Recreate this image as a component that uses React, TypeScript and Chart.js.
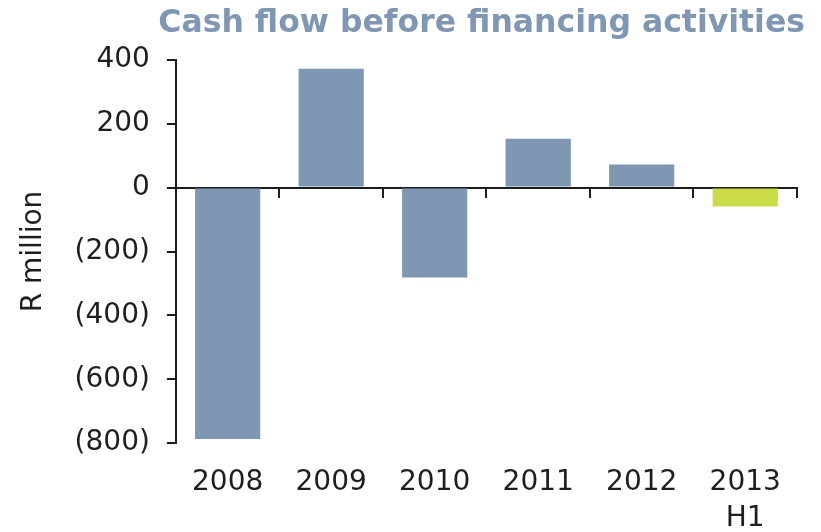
import React, { useEffect, useRef } from 'react';
import { Chart, registerables } from 'chart.js';

Chart.register(...registerables);

const categories: (string | string[])[] = ['2008', '2009', '2010', '2011', '2012', ['2013', 'H1']];
const cashFlow = [-787, 372, -281, 153, 72, -59];
const barColors = ['#7f97b2', '#7f97b2', '#7f97b2', '#7f97b2', '#7f97b2', '#cbdb48'];
const yMin = -800;
const yMax = 400;
const yStep = 200;
const chartTitle = 'Cash flow before financing activities';
const yTitle = 'R million';

const FONT = "'DejaVu Sans', Verdana, sans-serif";
const INK = '#1e1e1e';

export default function App() {
  const ref = useRef<HTMLCanvasElement | null>(null);

  useEffect(() => {
    if (!ref.current) return;
    const chart = new Chart(ref.current, {
      type: 'bar',
      data: {
        labels: categories,
        datasets: [
          {
            data: cashFlow,
            backgroundColor: barColors,
            borderWidth: 0,
            barPercentage: 0.63,
            categoryPercentage: 1,
            xAxisID: 'x',
            yAxisID: 'y',
          },
        ],
      },
      options: {
        animation: false,
        responsive: true,
        maintainAspectRatio: false,
        layout: { padding: { left: 0, right: 16, top: 0, bottom: -26 } },
        plugins: {
          legend: { display: false },
          tooltip: { enabled: false },
          title: {
            display: true,
            text: chartTitle,
            fullSize: true,
            align: 'end',
            color: '#7f97b2',
            font: { family: FONT, size: 31.5, weight: 'bold' },
            padding: { top: 5, bottom: 17 },
          },
        },
        scales: {
          x: {
            type: 'category',
            position: 'bottom',
            offset: true,
            grid: { display: false, drawTicks: false },
            border: { display: false },
            ticks: {
              color: INK,
              font: { family: FONT, size: 28, lineHeight: 1.3 },
              padding: 21,
              maxRotation: 0,
              autoSkip: false,
            },
          },
          x2: {
            type: 'category',
            position: { y: 0 },
            offset: true,
            grid: {
              display: true,
              offset: true,
              drawOnChartArea: false,
              drawTicks: true,
              tickLength: 9,
              color: INK,
              lineWidth: 2,
            },
            border: { display: true, color: INK, width: 2 },
            ticks: { display: false },
          },
          y: {
            min: yMin,
            max: yMax,
            grid: {
              display: true,
              drawOnChartArea: false,
              drawTicks: true,
              tickLength: 9,
              color: INK,
              lineWidth: 2,
            },
            border: { display: true, color: INK, width: 2 },
            ticks: {
              stepSize: yStep,
              color: INK,
              font: { family: FONT, size: 28 },
              padding: 17,
              callback: (v: any) => {
                const n = Number(v);
                return n < 0 ? `(${-n})` : `${n}`;
              },
            },
            title: {
              display: true,
              text: yTitle,
              color: INK,
              font: { family: FONT, size: 28 },
              padding: { top: 17, bottom: 7 },
            },
          },
          yRightSpacer: {
            type: 'linear',
            position: 'right',
            display: true,
            grid: { display: false, drawTicks: false },
            border: { display: false },
            ticks: { display: false },
            afterFit: (scale: any) => {
              scale.width = 8;
            },
          },
        },
      },
    });
    return () => chart.destroy();
  }, []);

  return (
    <div style={{ position: 'fixed', left: 0, top: 0, width: 821, height: 532, background: '#fff' }}>
      <canvas ref={ref} />
    </div>
  );
}
